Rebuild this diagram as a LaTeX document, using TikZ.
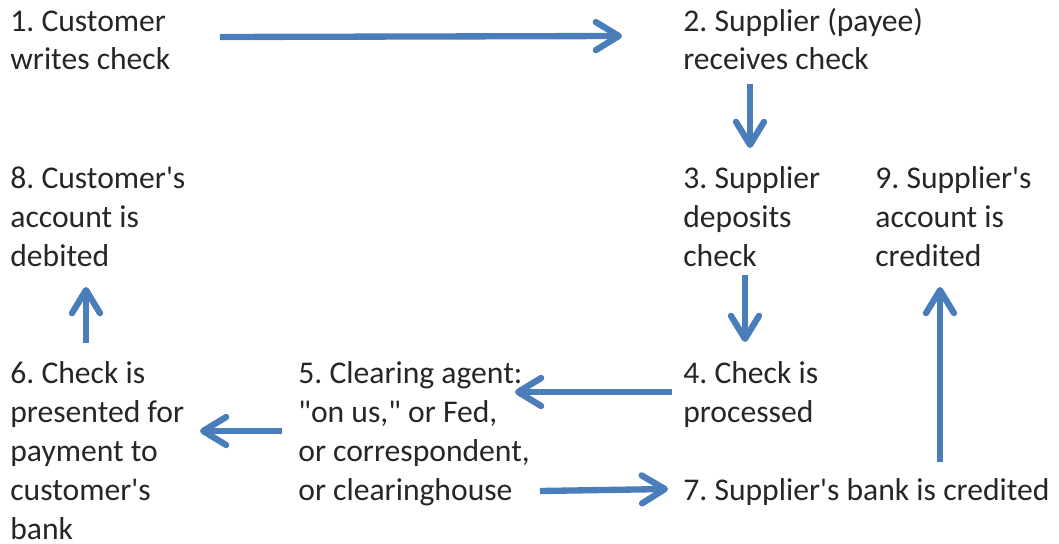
\documentclass[tikz,border=0pt]{standalone}
\usepackage{fontspec}
\setmainfont{Carlito}[Ligatures=TeXOff]
\frenchspacing
\usetikzlibrary{arrows.meta,positioning}
\definecolor{flowblue}{HTML}{4A7EBB}
\definecolor{inkgray}{HTML}{262626}
\tikzset{
    stage/.style = {anchor=base west, inner sep=0pt, align=left,
        text=inkgray, font=\fontsize{18}{22.1}\selectfont},
    flow/.style = {draw=flowblue, line width=3.6pt,
        -{Straight Barb[length=4.6mm, width=5.6mm, line cap=round, line join=round]}}
}
\begin{document}
\begin{tikzpicture}[x=0.02cm, y=-0.02cm]
    \useasboundingbox (0,0) rectangle (1059,544);
    % top row (nodes sit on the baseline of their last line)
    \node [stage] (write)    at (10,70)   {1. Customer\\writes check};
    \node [stage] (receive)  at (683,70)  {2. Supplier (payee)\\receives check};
    % middle row
    \node [stage] (debit)    at (10,266)  {8. Customer's\\account is\\debited};
    \node [stage] (deposit)  at (683,266) {3. Supplier\\deposits\\check};
    \node [stage] (credit)   at (875,266) {9. Supplier's\\account is\\credited};
    % bottom row
    \node [stage] (present)  at (10,539)  {6. Check is\\presented for\\payment to\\customer's\\bank};
    \node [stage] (clear)    at (298,500) {5. Clearing agent:\\"on us," or Fed,\\or correspondent,\\or clearinghouse};
    \node [stage] (process)  at (683,422) {4. Check is\\processed};
    \node [stage] (bankcred) at (683,500) {7. Supplier's bank is credited};
    % flows
    \draw [flow] ([shift={(210,-33)}]write.base west)   -- ([shift={(-61,-34)}]receive.base west);
    \draw [flow] ([shift={(67,14)}]receive.base west)   -- ([shift={(67,-118)}]deposit.base west);
    \draw [flow] ([shift={(62,9)}]deposit.base west)    -- ([shift={(62,-80)}]process.base west);
    \draw [flow] ([shift={(-11,-30)}]process.base west) -- ([shift={(217,-108)}]clear.base west);
    \draw [flow] ([shift={(-16,-69)}]clear.base west)   -- ([shift={(190,-108)}]present.base west);
    \draw [flow] ([shift={(76,-196)}]present.base west) -- ([shift={(76,21)}]debit.base west);
    \draw [flow] ([shift={(242,-9)}]clear.base west)    -- ([shift={(-15,-11)}]bankcred.base west);
    \draw [flow] ([shift={(257,-38)}]bankcred.base west) -- ([shift={(65,21)}]credit.base west);
\end{tikzpicture}
\end{document}
